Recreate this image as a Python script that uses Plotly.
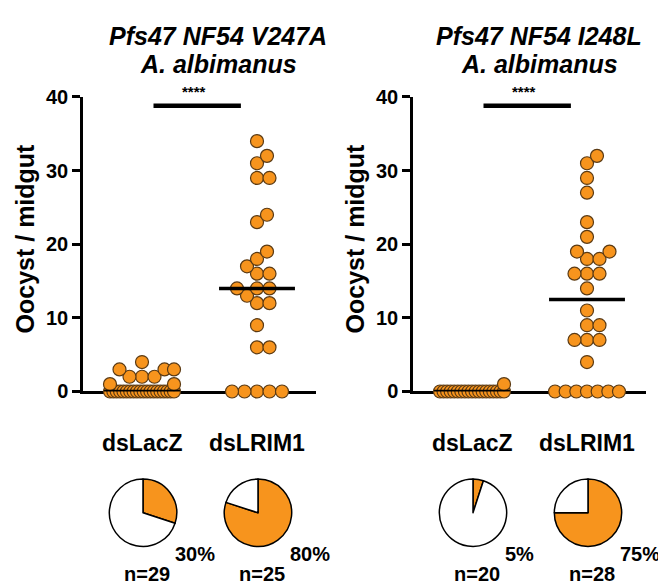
import numpy as np
import plotly.graph_objects as go

# ---------------- data ----------------
categories = ["dsLacZ", "dsLRIM1"]
panel_titles = ["Pfs47 NF54 V247A", "Pfs47 NF54 I248L"]
species = "A. albimanus"
y_title = "Oocyst / midgut"
y_ticks = [0, 10, 20, 30, 40]

v247a_lacz = [0, 0, 0, 0, 0, 0, 0, 0, 0, 0, 0, 0, 0, 0, 0, 0, 0, 0, 0, 0,
              1, 1, 2, 2, 2, 3, 3, 3, 4]
v247a_lrim = [0, 0, 0, 0, 0, 6, 6, 9, 12, 12, 13, 14, 14, 14, 16, 16, 17, 18,
              19, 23, 24, 29, 29, 31, 32, 34]
i248l_lacz = [0, 0, 0, 0, 0, 0, 0, 0, 0, 0, 0, 0, 0, 0, 0, 0, 0, 0, 0, 1]
i248l_lrim = [0, 0, 0, 0, 0, 0, 0, 4, 7, 7, 7, 9, 9, 11, 14, 16, 16, 16, 18,
              18, 19, 19, 21, 23, 27, 29, 31, 32]

panels = [[v247a_lacz, v247a_lrim], [i248l_lacz, i248l_lrim]]
prevalence = [[30, 80], [5, 75]]
n_labels = [["n=29", "n=25"], ["n=20", "n=28"]]
significance = ["****", "****"]

# ---------------- styling ----------------
W, H = 666, 587
ORANGE = "#F7941D"
EDGE = "#5A3A14"
FONT = "Liberation Sans, Arial, sans-serif"
axis_px = [75, 405]           # left edge of each plot area (px)
plot_w = 233                  # plot area width (px)
y0_px, y40_px = 387, 81       # y pixel of 0 and 40
xr = [-0.513, 1.513]
px_per_x = plot_w / (xr[1] - xr[0])
px_per_y = (y0_px - y40_px) / 40.0
DOT = 13
title_cx = [210, 531]


def swarm(vals, d=DOT, max_half=32):
    """Beeswarm offsets (in px) computed from the values."""
    vals = np.asarray(vals, float)
    xs = np.zeros(len(vals))
    placed = []
    cand = np.arange(-3 * max_half, 3 * max_half + 0.01, 0.5)
    cand = cand[np.lexsort((cand < 0, np.abs(cand)))]
    uniq, counts = np.unique(vals, return_counts=True)
    for v, k in zip(uniq, counts):
        idx = np.where(vals == v)[0]
        y = v * px_per_y
        if k * d > 2 * max_half + d:
            offs = np.linspace(-max_half, max_half, k)
            for i, o in zip(idx, offs):
                xs[i] = o
                placed.append((o, y))
            continue
        for i in idx:
            best = 0.0
            for c in cand:
                dist = min((np.hypot(c - px, y - py) for px, py in placed),
                           default=np.inf)
                if dist >= d - 0.5:
                    best = c
                    break
            best = float(np.clip(best, -max_half, max_half))
            xs[i] = best
            placed.append((best, y))
    return xs


fig = go.Figure()
annotations = []
shapes = []


def txt(text, size, **kw):
    d = dict(text=text, showarrow=False, xanchor="center", yanchor="middle",
             font=dict(size=size, family=FONT, color="black"))
    d.update(kw)
    return d


for p, groups in enumerate(panels):
    xa = "x" if p == 0 else "x2"
    ya = "y" if p == 0 else "y2"
    for c, vals in enumerate(groups):
        offs = swarm(vals)
        fig.add_trace(go.Scatter(
            x=c + offs / px_per_x, y=vals, mode="markers",
            xaxis=xa, yaxis=ya, cliponaxis=False,
            marker=dict(size=DOT, color=ORANGE,
                        line=dict(color=EDGE, width=1.2)),
            hoverinfo="y"))
    for c, vals in enumerate(groups):
        med = float(np.median(vals))
        fig.add_trace(go.Scatter(
            x=[c - 0.33, c + 0.33], y=[med, med], mode="lines",
            xaxis=xa, yaxis=ya, cliponaxis=False,
            line=dict(color="black", width=3.5), hoverinfo="skip"))

    # significance bar
    shapes.append(dict(type="line", xref=xa, yref=ya, x0=0.10, x1=0.86,
                       y0=38.8, y1=38.8, line=dict(color="black", width=4.5)))
    annotations.append(txt("<b>" + significance[p] + "</b>", 15,
                           xref=xa, yref=ya, x=0.45, y=38.8, yshift=14))

    # panel title
    cx = title_cx[p] / W
    annotations.append(txt("<b><i>" + panel_titles[p] + "</i></b>", 25,
                           xref="paper", yref="paper", x=cx, y=1 - 18 / H))
    annotations.append(txt("<b><i>" + species + "</i></b>", 25,
                           xref="paper", yref="paper", x=cx, y=1 - 47 / H))

    # y-axis title
    annotations.append(txt("<b>" + y_title + "</b>", 25, textangle=-90,
                           xref="paper", yref="paper",
                           x=(axis_px[p] - 58) / W, y=1 - 228 / H))

    for c in range(2):
        cat_px = axis_px[p] + (c - xr[0]) * px_per_x
        # category label
        annotations.append(txt("<b>" + categories[c] + "</b>", 23,
                               xref=xa, yref="paper", x=c, y=1 - 440 / H))
        # pie chart
        pc = prevalence[p][c]
        cy = 513
        fig.add_trace(go.Pie(
            values=[pc, 100 - pc], sort=False, direction="clockwise",
            rotation=0, textinfo="none", hoverinfo="skip", showlegend=False,
            marker=dict(colors=[ORANGE, "white"],
                        line=dict(color="black", width=1.5)),
            domain=dict(x=[(cat_px + 1 - 35) / W, (cat_px + 1 + 35) / W],
                        y=[(H - cy - 35) / H, (H - cy + 35) / H])))
        annotations.append(txt("<b>%d%%</b>" % pc, 20, xref=xa, yref="paper",
                               x=c, xshift=31, y=1 - 556 / H,
                               xanchor="left"))
        annotations.append(txt("<b>" + n_labels[p][c] + "</b>", 20,
                               xref=xa, yref="paper", x=c, xshift=5,
                               y=1 - 577 / H))

ydom = [(H - y0_px) / H, (H - y40_px) / H]
axis_common_x = dict(range=xr, showline=True, linewidth=2.5, linecolor="black",
                     showgrid=False, zeroline=False, tickvals=[0, 1],
                     showticklabels=False, ticks="outside", ticklen=4,
                     tickwidth=2, tickcolor="black", layer="below traces",
                     fixedrange=True)
axis_common_y = dict(range=[0, 40], showline=True, linewidth=2.5,
                     linecolor="black", showgrid=False, zeroline=False,
                     tickvals=y_ticks, ticks="outside", ticklen=8,
                     tickwidth=2.5, tickcolor="black", layer="below traces",
                     tickfont=dict(size=20, family=FONT, color="black",
                                   weight="bold"),
                     domain=ydom, fixedrange=True)

fig.update_layout(
    width=W, height=H, margin=dict(l=0, r=0, t=0, b=0),
    paper_bgcolor="white", plot_bgcolor="white", showlegend=False,
    xaxis=dict(domain=[axis_px[0] / W, (axis_px[0] + plot_w) / W],
               anchor="y", **axis_common_x),
    yaxis=dict(anchor="x", **axis_common_y),
    xaxis2=dict(domain=[axis_px[1] / W, (axis_px[1] + plot_w) / W],
                anchor="y2", **axis_common_x),
    yaxis2=dict(anchor="x2", **axis_common_y),
    annotations=annotations, shapes=shapes,
)

fig.write_html("out.html")
